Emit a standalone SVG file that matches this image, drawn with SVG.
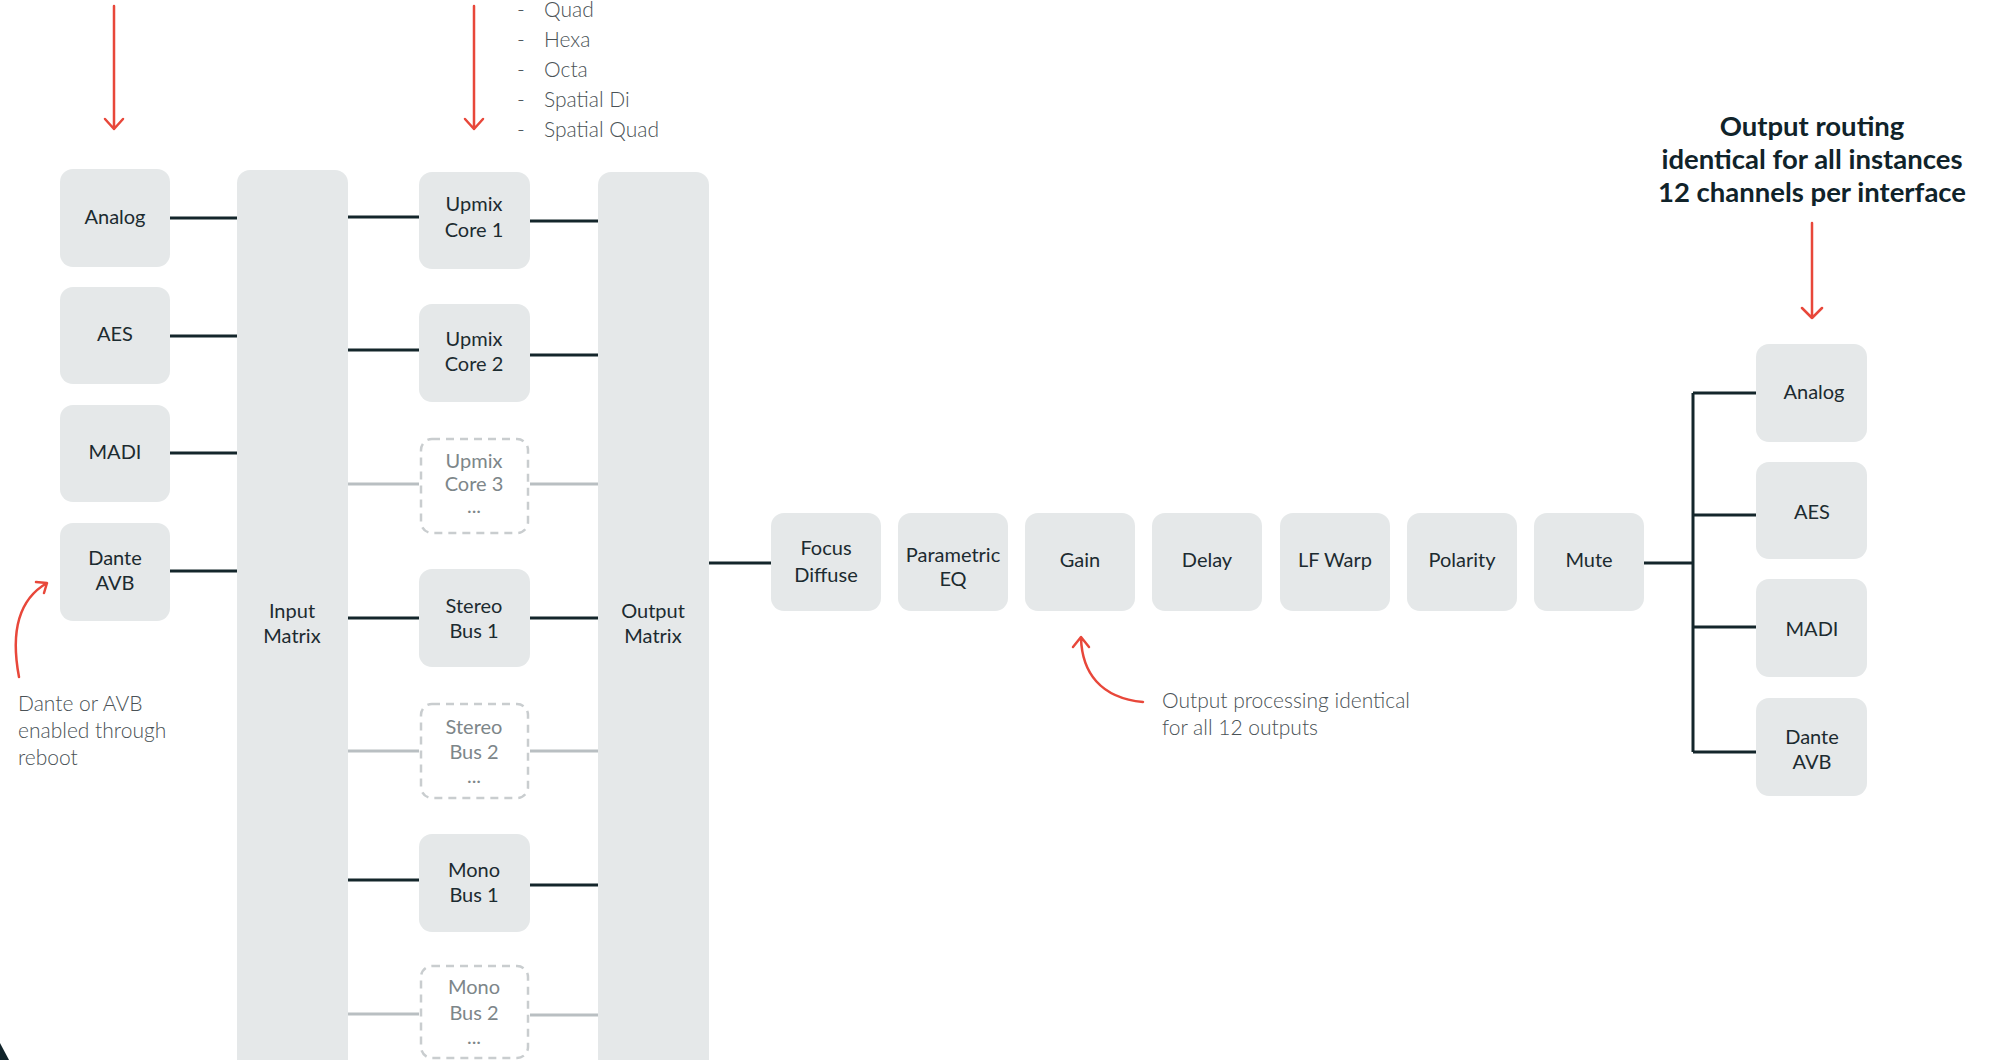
<svg xmlns="http://www.w3.org/2000/svg" width="1991" height="1060" viewBox="0 0 1991 1060">
<defs>
<style>
.box{fill:#e5e8e9}
.dbox{fill:#ffffff;stroke:#c9cdcf;stroke-width:2.5;stroke-dasharray:8 6}
.t{font-family:Lato,"Noto Sans",sans-serif;font-size:20px;fill:#1c2b30;text-anchor:middle;dominant-baseline:central}
.tg{font-family:Lato,"Noto Sans",sans-serif;font-size:20px;fill:#7d8689;text-anchor:middle;dominant-baseline:central}
.note{font-family:Lato,"Noto Sans",sans-serif;font-size:21px;font-weight:300;fill:#4a5256;dominant-baseline:central}
.head{font-family:Lato,"Noto Sans",sans-serif;font-size:27.5px;font-weight:700;fill:#10232a;text-anchor:middle;dominant-baseline:central}
.ln{stroke:#14262b;stroke-width:3;fill:none}
.lg{stroke:#b9bfc2;stroke-width:3;fill:none}
.red{stroke:#e8473a;stroke-width:2.5;fill:none;stroke-linecap:round;stroke-linejoin:round}
</style>
</defs>
<rect width="1991" height="1060" fill="#ffffff"/>

<g id="connectors">
<path class="ln" d="M170 218H237M170 336H237M170 453H237M170 571H237"/>
<path class="ln" d="M348 217H419M348 350H419M348 618H419M348 880H419"/>
<path class="lg" d="M348 484H419M348 751H419M348 1014H419"/>
<path class="ln" d="M530 221H598M530 355H598M530 618H598M530 885H598"/>
<path class="lg" d="M530 484H598M530 751H598M530 1015H598"/>
<path class="ln" d="M709 563H771"/>
<path class="ln" d="M1644 563H1693M1693 393V752M1693 393H1756M1693 515H1756M1693 627H1756M1693 752H1756"/>
</g>

<g id="annotations">
<path class="red" d="M114 6V129M105 119L114 129L123 119"/>
<path class="red" d="M474 6V129M465 119L474 129L483 119"/>
<path class="red" d="M1812 223V318M1802 308L1812 318L1822 308"/>
<path class="red" d="M19 677C12 640 14 602 47 583M36 582L47 583L44 593"/>
<path class="red" d="M1143 702C1100 698 1082 672 1081 638M1073 647L1081 637L1089 647"/>
<g class="note">
<text x="517" y="8">-</text><text x="544" y="8">Quad</text>
<text x="517" y="38">-</text><text x="544" y="38">Hexa</text>
<text x="517" y="68">-</text><text x="544" y="68">Octa</text>
<text x="517" y="98">-</text><text x="544" y="98">Spatial Di</text>
<text x="517" y="128">-</text><text x="544" y="128">Spatial Quad</text>
</g>
<text class="note" x="18" y="702">Dante or AVB</text>
<text class="note" x="18" y="729">enabled through</text>
<text class="note" x="18" y="756">reboot</text>
<text class="note" x="1162" y="699">Output processing identical</text>
<text class="note" x="1162" y="726">for all 12 outputs</text>
<text class="head" x="1812" y="125">Output routing</text>
<text class="head" x="1812" y="158">identical for all instances</text>
<text class="head" x="1812" y="191">12 channels per interface</text>
<polygon points="0,1043 9,1060 0,1060" fill="#10232a"/>
</g>

<g id="in-analog"><rect class="box" x="60" y="169" width="110" height="98" rx="13"/><text class="t" x="115" y="216">Analog</text></g>
<g id="in-aes"><rect class="box" x="60" y="287" width="110" height="97" rx="13"/><text class="t" x="115" y="333">AES</text></g>
<g id="in-madi"><rect class="box" x="60" y="405" width="110" height="97" rx="13"/><text class="t" x="115" y="451">MADI</text></g>
<g id="in-dante"><rect class="box" x="60" y="523" width="110" height="98" rx="13"/><text class="t" x="115" y="557">Dante</text><text class="t" x="115" y="582">AVB</text></g>

<g id="input-matrix"><rect class="box" x="237" y="170" width="111" height="920" rx="13"/><text class="t" x="292" y="610">Input</text><text class="t" x="292" y="635">Matrix</text></g>

<g id="upmix1"><rect class="box" x="419" y="172" width="111" height="97" rx="13"/><text class="t" x="474" y="203">Upmix</text><text class="t" x="474" y="229">Core 1</text></g>
<g id="upmix2"><rect class="box" x="419" y="304" width="111" height="98" rx="13"/><text class="t" x="474" y="338">Upmix</text><text class="t" x="474" y="363">Core 2</text></g>
<g id="upmix3"><rect class="dbox" x="421" y="439" width="107" height="94" rx="11"/><text class="tg" x="474" y="460">Upmix</text><text class="tg" x="474" y="483">Core 3</text><text class="tg" x="474" y="505">...</text></g>
<g id="stereo1"><rect class="box" x="419" y="569" width="111" height="98" rx="13"/><text class="t" x="474" y="605">Stereo</text><text class="t" x="474" y="630">Bus 1</text></g>
<g id="stereo2"><rect class="dbox" x="421" y="704" width="107" height="94" rx="11"/><text class="tg" x="474" y="726">Stereo</text><text class="tg" x="474" y="751">Bus 2</text><text class="tg" x="474" y="775">...</text></g>
<g id="mono1"><rect class="box" x="419" y="834" width="111" height="98" rx="13"/><text class="t" x="474" y="869">Mono</text><text class="t" x="474" y="894">Bus 1</text></g>
<g id="mono2"><rect class="dbox" x="421" y="966" width="107" height="92" rx="11"/><text class="tg" x="474" y="986">Mono</text><text class="tg" x="474" y="1012">Bus 2</text><text class="tg" x="474" y="1036">...</text></g>

<g id="output-matrix"><rect class="box" x="598" y="172" width="111" height="920" rx="13"/><text class="t" x="653" y="610">Output</text><text class="t" x="653" y="635">Matrix</text></g>

<g id="focus"><rect class="box" x="771" y="513" width="110" height="98" rx="13"/><text class="t" x="826" y="547">Focus</text><text class="t" x="826" y="574">Diffuse</text></g>
<g id="peq"><rect class="box" x="898" y="513" width="110" height="98" rx="13"/><text class="t" x="953" y="554">Parametric</text><text class="t" x="953" y="578">EQ</text></g>
<g id="gain"><rect class="box" x="1025" y="513" width="110" height="98" rx="13"/><text class="t" x="1080" y="559">Gain</text></g>
<g id="delay"><rect class="box" x="1152" y="513" width="110" height="98" rx="13"/><text class="t" x="1207" y="559">Delay</text></g>
<g id="lfwarp"><rect class="box" x="1280" y="513" width="110" height="98" rx="13"/><text class="t" x="1335" y="559">LF Warp</text></g>
<g id="polarity"><rect class="box" x="1407" y="513" width="110" height="98" rx="13"/><text class="t" x="1462" y="559">Polarity</text></g>
<g id="mute"><rect class="box" x="1534" y="513" width="110" height="98" rx="13"/><text class="t" x="1589" y="559">Mute</text></g>

<g id="out-analog"><rect class="box" x="1756" y="344" width="111" height="98" rx="13"/><text class="t" x="1814" y="391">Analog</text></g>
<g id="out-aes"><rect class="box" x="1756" y="462" width="111" height="97" rx="13"/><text class="t" x="1812" y="511">AES</text></g>
<g id="out-madi"><rect class="box" x="1756" y="579" width="111" height="98" rx="13"/><text class="t" x="1812" y="628">MADI</text></g>
<g id="out-dante"><rect class="box" x="1756" y="698" width="111" height="98" rx="13"/><text class="t" x="1812" y="736">Dante</text><text class="t" x="1812" y="761">AVB</text></g>
</svg>
